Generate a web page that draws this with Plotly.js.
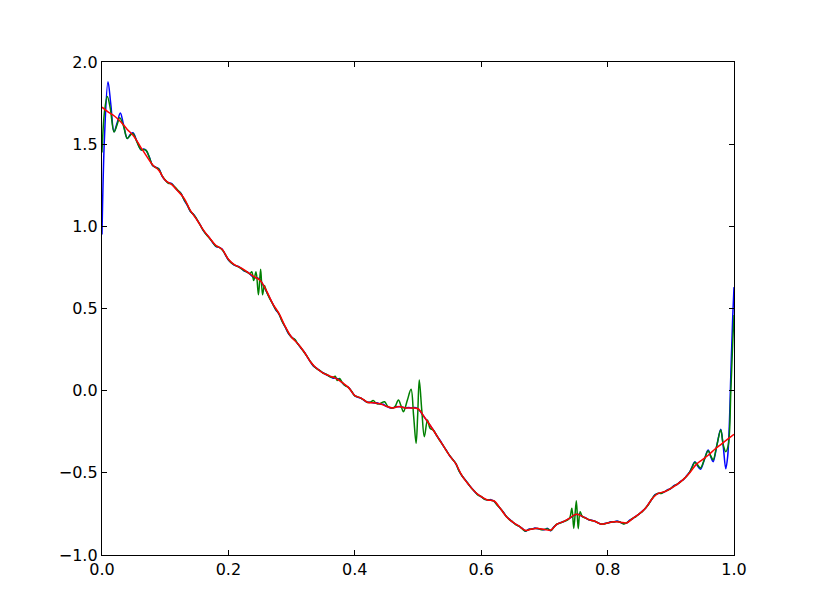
<!DOCTYPE html>
<html>
<head>
<meta charset="utf-8">
<script src="https://cdn.plot.ly/plotly-3.0.1.min.js"></script>
<style>html,body{margin:0;padding:0;background:#fff;}#chart{width:815px;height:615px;}</style>
</head>
<body>
<div id="chart"></div>
<script>
// Red (smooth) series
const xRed = [0.00,0.01,0.02,0.03,0.04,0.05,0.06,0.07,0.08,0.09,0.10,0.11,0.12,0.13,0.14,0.15,0.16,0.17,0.18,0.19,0.20,0.21,0.22,0.23,0.24,0.25,0.26,0.27,0.28,0.29,0.30,0.31,0.32,0.33,0.34,0.35,0.36,0.37,0.38,0.39,0.40,0.41,0.42,0.43,0.44,0.45,0.46,0.47,0.48,0.49,0.50,0.51,0.52,0.53,0.54,0.55,0.56,0.57,0.58,0.59,0.60,0.61,0.62,0.63,0.64,0.65,0.66,0.67,0.68,0.69,0.70,0.71,0.72,0.73,0.74,0.75,0.76,0.77,0.78,0.79,0.80,0.81,0.82,0.83,0.84,0.85,0.86,0.87,0.88,0.89,0.90,0.91,0.92,0.93,0.94,0.95,0.96,0.97,0.98,0.99,1.00];
const yRed = [1.725,1.695,1.67,1.635,1.59,1.55,1.49,1.43,1.375,1.34,1.28,1.255,1.215,1.17,1.095,1.04,0.98,0.93,0.885,0.86,0.80,0.765,0.747,0.722,0.695,0.672,0.61,0.53,0.47,0.39,0.325,0.285,0.235,0.175,0.135,0.107,0.09,0.075,0.05,0.02,-0.03,-0.045,-0.07,-0.074,-0.08,-0.095,-0.105,-0.097,-0.105,-0.105,-0.11,-0.16,-0.215,-0.275,-0.335,-0.395,-0.445,-0.52,-0.57,-0.615,-0.645,-0.665,-0.67,-0.716,-0.767,-0.80,-0.825,-0.85,-0.842,-0.838,-0.845,-0.848,-0.812,-0.797,-0.775,-0.752,-0.765,-0.785,-0.795,-0.812,-0.805,-0.798,-0.80,-0.805,-0.777,-0.75,-0.715,-0.66,-0.625,-0.615,-0.595,-0.57,-0.54,-0.50,-0.45,-0.42,-0.39,-0.355,-0.325,-0.295,-0.265];

// Blue series
const xBlue = [0.000,0.004,0.0095,0.014,0.019,0.024,0.029,0.034,0.040,0.045,0.049,0.055,0.062,0.066,0.070,0.075,0.080,0.085,0.090,0.095,0.100,0.105,0.110,0.115,0.120,0.125,0.130,0.135,0.140,0.145,0.150,0.155,0.160,0.165,0.170,0.175,0.180,0.185,0.190,0.195,0.200,0.205,0.210,0.215,0.220,0.225,0.230,0.235,0.240,0.245,0.250,0.255,0.260,0.265,0.270,0.275,0.280,0.285,0.290,0.295,0.300,0.305,0.310,0.315,0.320,0.325,0.330,0.335,0.340,0.345,0.350,0.355,0.360,0.365,0.370,0.375,0.380,0.385,0.390,0.395,0.400,0.405,0.410,0.415,0.420,0.425,0.430,0.435,0.440,0.445,0.450,0.455,0.460,0.465,0.470,0.475,0.480,0.485,0.490,0.495,0.500,0.505,0.510,0.515,0.520,0.525,0.530,0.535,0.540,0.545,0.550,0.555,0.560,0.565,0.570,0.575,0.580,0.585,0.590,0.595,0.600,0.605,0.610,0.615,0.620,0.625,0.630,0.635,0.640,0.645,0.650,0.655,0.660,0.665,0.670,0.675,0.680,0.685,0.690,0.695,0.700,0.705,0.710,0.715,0.720,0.725,0.730,0.735,0.740,0.745,0.750,0.755,0.760,0.765,0.770,0.775,0.780,0.785,0.790,0.795,0.800,0.805,0.810,0.815,0.820,0.825,0.830,0.835,0.840,0.845,0.850,0.855,0.860,0.865,0.870,0.875,0.880,0.885,0.890,0.895,0.900,0.905,0.910,0.915,0.920,0.925,0.930,0.934,0.938,0.942,0.947,0.953,0.959,0.963,0.967,0.973,0.979,0.983,0.987,0.990,0.9925,0.995,0.998,1.000];
const yBlue = [0.95,1.55,1.88,1.74,1.575,1.63,1.69,1.62,1.535,1.56,1.57,1.52,1.465,1.47,1.46,1.42,1.37,1.36,1.35,1.305,1.28,1.265,1.262,1.238,1.217,1.20,1.16,1.128,1.09,1.072,1.042,1.012,0.975,0.952,0.93,0.902,0.878,0.872,0.862,0.828,0.795,0.778,0.762,0.757,0.745,0.728,0.722,0.705,0.688,0.687,0.676,0.642,0.605,0.567,0.53,0.492,0.466,0.424,0.386,0.348,0.326,0.31,0.284,0.258,0.236,0.204,0.174,0.148,0.136,0.12,0.109,0.097,0.088,0.077,0.076,0.068,0.048,0.03,0.021,-0.006,-0.03,-0.041,-0.046,-0.06,-0.07,-0.071,-0.075,-0.074,-0.082,-0.083,-0.096,-0.104,-0.106,-0.097,-0.098,-0.099,-0.106,-0.102,-0.106,-0.102,-0.111,-0.134,-0.161,-0.188,-0.216,-0.243,-0.276,-0.303,-0.336,-0.363,-0.396,-0.418,-0.446,-0.488,-0.521,-0.543,-0.571,-0.593,-0.616,-0.633,-0.646,-0.658,-0.666,-0.663,-0.673,-0.693,-0.717,-0.738,-0.768,-0.783,-0.801,-0.813,-0.826,-0.838,-0.856,-0.843,-0.843,-0.836,-0.841,-0.843,-0.846,-0.838,-0.853,-0.828,-0.813,-0.803,-0.798,-0.788,-0.776,-0.763,-0.753,-0.753,-0.766,-0.773,-0.786,-0.788,-0.796,-0.803,-0.813,-0.808,-0.806,-0.798,-0.799,-0.793,-0.801,-0.808,-0.806,-0.788,-0.778,-0.763,-0.751,-0.733,-0.716,-0.688,-0.661,-0.633,-0.626,-0.623,-0.616,-0.603,-0.596,-0.578,-0.571,-0.553,-0.541,-0.518,-0.495,-0.46,-0.432,-0.455,-0.478,-0.42,-0.361,-0.40,-0.432,-0.33,-0.235,-0.34,-0.475,-0.40,-0.22,0.10,0.45,0.63];

// Green series
const xGreen = [0.000,0.004,0.0084,0.013,0.019,0.024,0.028,0.034,0.040,0.045,0.049,0.055,0.062,0.066,0.070,0.075,0.080,0.085,0.090,0.095,0.100,0.105,0.110,0.115,0.120,0.125,0.130,0.135,0.140,0.145,0.150,0.155,0.160,0.165,0.170,0.175,0.180,0.185,0.190,0.195,0.200,0.205,0.210,0.215,0.220,0.225,0.230,0.234,0.237,0.240,0.2437,0.2475,0.251,0.254,0.257,0.260,0.265,0.270,0.275,0.280,0.285,0.290,0.295,0.300,0.305,0.310,0.315,0.320,0.325,0.330,0.335,0.340,0.345,0.350,0.355,0.360,0.365,0.369,0.372,0.376,0.380,0.385,0.390,0.395,0.400,0.405,0.410,0.415,0.420,0.425,0.429,0.435,0.440,0.447,0.452,0.458,0.463,0.469,0.473,0.477,0.483,0.489,0.493,0.497,0.4995,0.502,0.506,0.510,0.515,0.519,0.524,0.530,0.535,0.540,0.545,0.550,0.555,0.560,0.565,0.570,0.575,0.580,0.585,0.590,0.595,0.600,0.605,0.610,0.615,0.620,0.625,0.630,0.635,0.640,0.645,0.650,0.655,0.660,0.665,0.670,0.675,0.680,0.685,0.690,0.695,0.700,0.705,0.710,0.715,0.720,0.725,0.730,0.735,0.740,0.7435,0.7465,0.7505,0.7535,0.7565,0.760,0.765,0.770,0.775,0.780,0.785,0.790,0.795,0.800,0.805,0.810,0.815,0.820,0.825,0.830,0.835,0.840,0.845,0.850,0.855,0.860,0.865,0.870,0.875,0.880,0.885,0.890,0.895,0.900,0.905,0.910,0.915,0.920,0.925,0.930,0.934,0.938,0.942,0.947,0.953,0.959,0.963,0.967,0.973,0.979,0.983,0.987,0.991,0.995,0.998,1.000];
const yGreen = [1.45,1.70,1.79,1.72,1.575,1.62,1.66,1.61,1.535,1.555,1.565,1.515,1.465,1.468,1.462,1.418,1.372,1.358,1.348,1.308,1.282,1.262,1.258,1.24,1.22,1.198,1.162,1.13,1.092,1.07,1.044,1.01,0.977,0.95,0.928,0.904,0.88,0.874,0.858,0.83,0.798,0.776,0.764,0.755,0.743,0.73,0.72,0.712,0.724,0.67,0.724,0.583,0.739,0.583,0.64,0.605,0.563,0.528,0.494,0.468,0.422,0.388,0.35,0.324,0.312,0.283,0.26,0.232,0.206,0.176,0.15,0.133,0.122,0.106,0.1,0.086,0.08,0.088,0.062,0.074,0.05,0.03,0.018,-0.004,-0.032,-0.038,-0.047,-0.058,-0.072,-0.07,-0.06,-0.08,-0.078,-0.067,-0.095,-0.105,-0.1,-0.057,-0.09,-0.128,-0.06,0.008,-0.15,-0.32,-0.15,0.065,-0.12,-0.28,-0.178,-0.229,-0.24,-0.275,-0.307,-0.334,-0.366,-0.394,-0.42,-0.444,-0.49,-0.519,-0.546,-0.569,-0.596,-0.614,-0.636,-0.644,-0.661,-0.664,-0.667,-0.671,-0.696,-0.715,-0.741,-0.766,-0.786,-0.799,-0.816,-0.824,-0.841,-0.854,-0.846,-0.841,-0.839,-0.839,-0.846,-0.844,-0.841,-0.851,-0.831,-0.811,-0.806,-0.796,-0.791,-0.774,-0.716,-0.838,-0.67,-0.84,-0.737,-0.765,-0.776,-0.784,-0.791,-0.794,-0.806,-0.811,-0.811,-0.804,-0.801,-0.797,-0.796,-0.799,-0.811,-0.804,-0.791,-0.776,-0.766,-0.749,-0.736,-0.714,-0.691,-0.659,-0.636,-0.624,-0.626,-0.614,-0.606,-0.594,-0.581,-0.569,-0.556,-0.539,-0.521,-0.494,-0.465,-0.435,-0.45,-0.47,-0.42,-0.365,-0.395,-0.42,-0.33,-0.24,-0.33,-0.371,-0.33,0.0,0.3,0.46];

const xTicks = [0.0,0.2,0.4,0.6,0.8,1.0];
const yTicks = [-1.0,-0.5,0.0,0.5,1.0,1.5,2.0];

const lineShape = {shape: 'spline', smoothing: 1.0};

const traces = [
  {x: xBlue, y: yBlue, mode: 'lines', line: Object.assign({color: '#0000ff', width: 1.5}, lineShape), hoverinfo: 'skip'},
  {x: xGreen, y: yGreen, mode: 'lines', line: Object.assign({color: '#008000', width: 1.5}, lineShape), hoverinfo: 'skip'},
  {x: xRed, y: yRed, mode: 'lines', line: Object.assign({color: '#ff0000', width: 1.5}, lineShape), hoverinfo: 'skip'}
];

const axisCommon = {
  showgrid: false, zeroline: false, showline: true, linecolor: '#000', linewidth: 1.2,
  mirror: 'allticks', ticks: 'inside', ticklen: 5, tickwidth: 1, tickcolor: '#000',
  tickfont: {family: 'DejaVu Sans', size: 16, color: '#000'}, tickformat: '.1f'
};

const layout = {
  width: 815, height: 615,
  margin: {l: 102, r: 81, t: 62, b: 60, pad: 0},
  paper_bgcolor: '#fff', plot_bgcolor: '#fff',
  showlegend: false,
  xaxis: Object.assign({}, axisCommon, {range: [0, 1], tickvals: xTicks}),
  yaxis: Object.assign({}, axisCommon, {range: [-1, 2], tickvals: yTicks})
};

Plotly.newPlot('chart', traces, layout, {staticPlot: true, displayModeBar: false});
</script>
</body>
</html>
